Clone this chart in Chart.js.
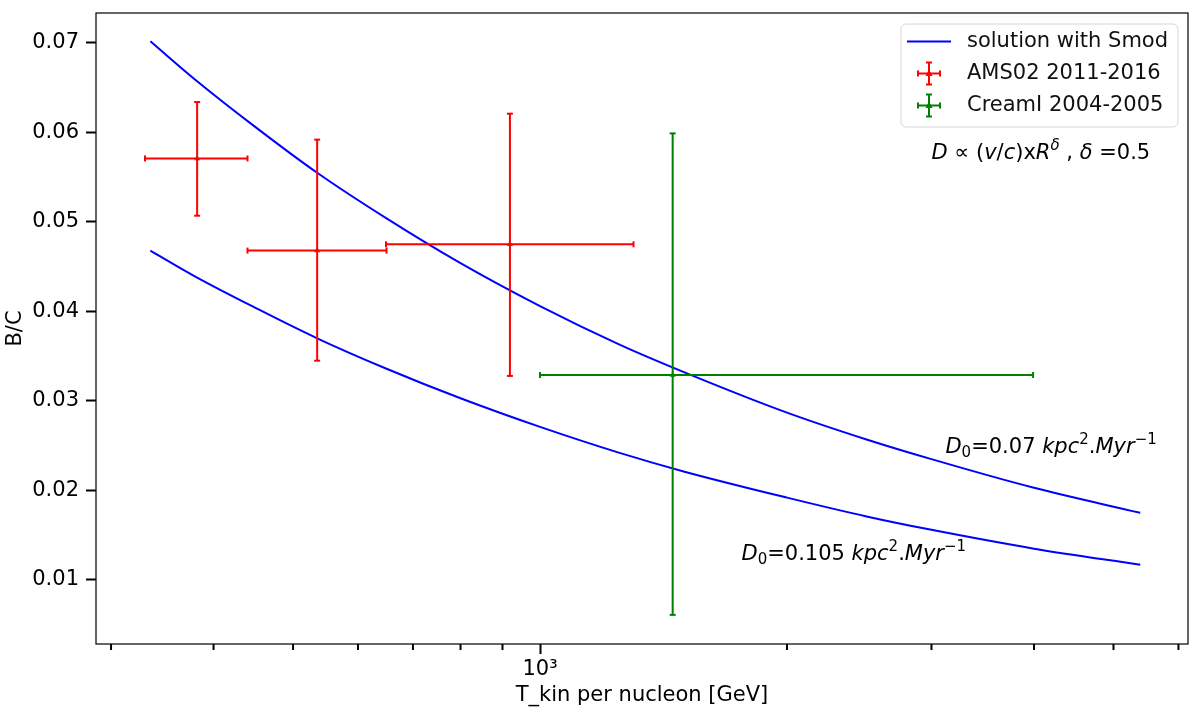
<!DOCTYPE html>
<html>
<head>
<meta charset="utf-8">
<script src="https://cdn.jsdelivr.net/npm/chart.js@4"></script>
<style>
  html, body { margin: 0; padding: 0; background: #fff; }
</style>
</head>
<body>
<canvas id="myChart" width="1200" height="723"></canvas>
<script>
// model curves, B/C vs kinetic energy per nucleon (GeV)
const curveE = [335, 380, 450, 535, 650, 800, 1000, 1250, 1500, 2000, 2500, 3000, 4000, 5390];
const bcD007 = [0.0702, 0.0659, 0.0606, 0.0555, 0.0504, 0.0454, 0.0406, 0.0363, 0.0332, 0.0287, 0.0257, 0.0235, 0.0203, 0.0175];
const bcD0105 = [0.0468, 0.0439, 0.0404, 0.0370, 0.0336, 0.0303, 0.0271, 0.0242, 0.0221, 0.0192, 0.0171, 0.0156, 0.0135, 0.0117];

// AMS02 2011-2016
const amsE = [382, 535, 919];
const amsELow = [330, 440, 649];
const amsEHigh = [440, 650, 1300];
const amsBC = [0.0571, 0.0468, 0.0475];
const amsBCLow = [0.0507, 0.0345, 0.0328];
const amsBCHigh = [0.0634, 0.0592, 0.0621];

// CreamI 2004-2005
const creamE = [1451];
const creamELow = [1000];
const creamEHigh = [3990];
const creamBC = [0.0329];
const creamBCLow = [0.0061];
const creamBCHigh = [0.0599];

const xTicks = [300, 400, 500, 600, 700, 800, 900, 1000, 2000, 3000, 4000, 5000, 6000];
const yTicks = [0.01, 0.02, 0.03, 0.04, 0.05, 0.06, 0.07];

const FONT = "'DejaVu Sans', sans-serif";
const FS = 21;
const fontMain = { family: FONT, size: FS };

function pts(xs, ys) {
  return xs.map((x, i) => ({ x: x, y: ys[i] }));
}

function line(ctx, x0, y0, x1, y1) {
  ctx.beginPath();
  ctx.moveTo(x0, y0);
  ctx.lineTo(x1, y1);
  ctx.stroke();
}

function drawErr(ctx, xs, ys, E, ELo, EHi, V, VLo, VHi, color) {
  ctx.save();
  ctx.strokeStyle = color;
  ctx.lineWidth = 2;
  for (let i = 0; i < E.length; i++) {
    const px = xs.getPixelForValue(E[i]);
    const py = ys.getPixelForValue(V[i]);
    const x0 = xs.getPixelForValue(ELo[i]);
    const x1 = xs.getPixelForValue(EHi[i]);
    const y0 = ys.getPixelForValue(VLo[i]);
    const y1 = ys.getPixelForValue(VHi[i]);
    line(ctx, x0, py, x1, py);
    line(ctx, px, y0, px, y1);
    line(ctx, x0, py - 3, x0, py + 3);
    line(ctx, x1, py - 3, x1, py + 3);
    line(ctx, px - 3, y0, px + 3, y0);
    line(ctx, px - 3, y1, px + 3, y1);
  }
  ctx.restore();
}

// draws mathtext-like pieces: [text, style] with style '', 'i', 'sup', 'sub', 'isup'
function drawRich(ctx, x, y, parts) {
  ctx.save();
  ctx.fillStyle = '#000';
  ctx.textBaseline = 'alphabetic';
  ctx.textAlign = 'left';
  let cx = x;
  parts.forEach(p => {
    const [t, st] = p;
    let size = FS, dy = 0, ital = st === 'i' || st === 'isup';
    if (st === 'sup' || st === 'isup') { size = 15; dy = -9; }
    if (st === 'sub') { size = 15; dy = 4; }
    ctx.font = (ital ? 'italic ' : '') + size + 'px ' + FONT;
    ctx.fillText(t, cx, y + dy);
    cx += ctx.measureText(t).width;
  });
  ctx.restore();
}

function legendErrSym(ctx, cx, cy, color) {
  ctx.save();
  ctx.strokeStyle = color;
  ctx.fillStyle = color;
  ctx.lineWidth = 2;
  line(ctx, cx - 11, cy, cx + 11, cy);
  line(ctx, cx, cy - 11, cx, cy + 11);
  line(ctx, cx - 11, cy - 3, cx - 11, cy + 3);
  line(ctx, cx + 11, cy - 3, cx + 11, cy + 3);
  line(ctx, cx - 3, cy - 11, cx + 3, cy - 11);
  line(ctx, cx - 3, cy + 11, cx + 3, cy + 11);
  ctx.beginPath();
  ctx.moveTo(cx, cy - 4);
  ctx.lineTo(cx + 3.5, cy + 2.5);
  ctx.lineTo(cx - 3.5, cy + 2.5);
  ctx.closePath();
  ctx.fill();
  ctx.restore();
}

const decor = {
  id: 'decor',
  afterDatasetsDraw(chart) {
    const ctx = chart.ctx;
    const xs = chart.scales.x, ys = chart.scales.y;
    drawErr(ctx, xs, ys, amsE, amsELow, amsEHigh, amsBC, amsBCLow, amsBCHigh, '#ff0000');
    drawErr(ctx, xs, ys, creamE, creamELow, creamEHigh, creamBC, creamBCLow, creamBCHigh, '#008000');
  },
  afterDraw(chart) {
    const ctx = chart.ctx;
    const a = chart.chartArea;
    const xs = chart.scales.x, ys = chart.scales.y;

    // frame
    ctx.save();
    ctx.strokeStyle = '#000';
    ctx.lineWidth = 1.2;
    ctx.strokeRect(a.left, a.top, a.right - a.left, a.bottom - a.top);

    // minor x ticks
    ctx.lineWidth = 2;
    xTicks.filter(v => v !== 1000).forEach(v => {
      const px = xs.getPixelForValue(v);
      line(ctx, px, a.bottom, px, a.bottom + 6);
    });
    ctx.restore();

    // legend
    const lx = 901, ly = 24, lw = 277, lh = 103, r = 5;
    ctx.save();
    ctx.beginPath();
    ctx.moveTo(lx + r, ly);
    ctx.arcTo(lx + lw, ly, lx + lw, ly + lh, r);
    ctx.arcTo(lx + lw, ly + lh, lx, ly + lh, r);
    ctx.arcTo(lx, ly + lh, lx, ly, r);
    ctx.arcTo(lx, ly, lx + lw, ly, r);
    ctx.closePath();
    ctx.fillStyle = 'rgba(255,255,255,0.8)';
    ctx.fill();
    ctx.strokeStyle = '#d6d6d6';
    ctx.lineWidth = 1;
    ctx.stroke();

    ctx.strokeStyle = '#0000ff';
    ctx.lineWidth = 1.8;
    line(ctx, 907, 41.5, 951, 41.5);
    legendErrSym(ctx, 929, 73.5, '#ff0000');
    legendErrSym(ctx, 929, 105.5, '#008000');

    ctx.fillStyle = '#111';
    ctx.font = FS + 'px ' + FONT;
    ctx.textBaseline = 'middle';
    ctx.fillText('solution with Smod', 967, 42);
    ctx.fillText('AMS02 2011-2016', 967, 74);
    ctx.fillText('CreamI 2004-2005', 967, 106);
    ctx.restore();

    // annotations, anchored in data coordinates
    drawRich(ctx, xs.getPixelForValue(3000), ys.getPixelForValue(0.057), [
      ['D', 'i'], [' \u221D ', ''], ['(', ''], ['v', 'i'], ['/', ''], ['c', 'i'], [')', ''], ['x', ''],
      ['R', 'i'], ['\u03B4', 'isup'], [' , ', ''], ['\u03B4', 'i'], [' =0.5', '']
    ]);
    drawRich(ctx, xs.getPixelForValue(3120), ys.getPixelForValue(0.0242), [
      ['D', 'i'], ['0', 'sub'], ['=0.07 ', ''], ['kpc', 'i'], ['2', 'sup'], ['.', ''], ['Myr', 'i'], ['\u22121', 'sup']
    ]);
    drawRich(ctx, xs.getPixelForValue(1760), ys.getPixelForValue(0.0122), [
      ['D', 'i'], ['0', 'sub'], ['=0.105 ', ''], ['kpc', 'i'], ['2', 'sup'], ['.', ''], ['Myr', 'i'], ['\u22121', 'sup']
    ]);
  }
};

document.addEventListener('DOMContentLoaded', function () {
  new Chart(document.getElementById('myChart').getContext('2d'), {
    data: {
      datasets: [
        {
          type: 'line',
          label: 'solution with Smod',
          data: pts(curveE, bcD007),
          borderColor: '#0000ff',
          borderWidth: 2,
          pointRadius: 0,
          fill: false,
          cubicInterpolationMode: 'monotone'
        },
        {
          type: 'line',
          label: 'solution with Smod (D0=0.105)',
          data: pts(curveE, bcD0105),
          borderColor: '#0000ff',
          borderWidth: 2,
          pointRadius: 0,
          fill: false,
          cubicInterpolationMode: 'monotone'
        },
        {
          type: 'scatter',
          label: 'AMS02 2011-2016',
          data: pts(amsE, amsBC),
          pointStyle: 'triangle',
          pointRadius: 3.5,
          backgroundColor: '#ff0000',
          borderColor: '#ff0000',
          borderWidth: 0
        },
        {
          type: 'scatter',
          label: 'CreamI 2004-2005',
          data: pts(creamE, creamBC),
          pointStyle: 'triangle',
          pointRadius: 3.5,
          backgroundColor: '#008000',
          borderColor: '#008000',
          borderWidth: 0
        }
      ]
    },
    options: {
      responsive: false,
      animation: false,
      devicePixelRatio: 1,
      layout: { padding: { left: 0, top: 13, right: 12, bottom: 0 } },
      plugins: { legend: { display: false }, tooltip: { enabled: false } },
      scales: {
        x: {
          type: 'logarithmic',
          bounds: 'data',
          min: 287.6,
          max: 6163,
          afterBuildTicks: s => { s.ticks = xTicks.map(v => ({ value: v })); },
          afterFit: s => { s.height = 79; s.paddingLeft = 0; s.paddingRight = 0; },
          ticks: {
            autoSkip: false,
            maxRotation: 0,
            padding: 3,
            color: '#000',
            font: fontMain,
            callback: v => (v === 1000 ? '10\u00B3' : '')
          },
          grid: {
            drawOnChartArea: false,
            tickLength: 10,
            tickWidth: 2,
            tickColor: c => (c.tick && c.tick.value === 1000 ? '#000' : 'rgba(0,0,0,0)')
          },
          border: { display: false },
          title: {
            display: true,
            text: 'T_kin per nucleon [GeV]',
            color: '#000',
            font: fontMain,
            padding: { top: 0, bottom: 15 }
          }
        },
        y: {
          type: 'linear',
          bounds: 'data',
          min: 0.002845,
          max: 0.07335,
          afterBuildTicks: s => { s.ticks = yTicks.map(v => ({ value: v })); },
          afterFit: s => { s.width = 96; s.paddingTop = 0; s.paddingBottom = 0; },
          ticks: {
            padding: 7,
            color: '#000',
            font: fontMain,
            callback: v => v.toFixed(2)
          },
          grid: {
            drawOnChartArea: false,
            tickLength: 10,
            tickWidth: 2,
            tickColor: '#000'
          },
          border: { display: false },
          title: {
            display: true,
            text: 'B/C',
            color: '#000',
            font: fontMain,
            padding: { top: 3, bottom: 0 }
          }
        }
      }
    },
    plugins: [decor]
  });
});
</script>
</body>
</html>
